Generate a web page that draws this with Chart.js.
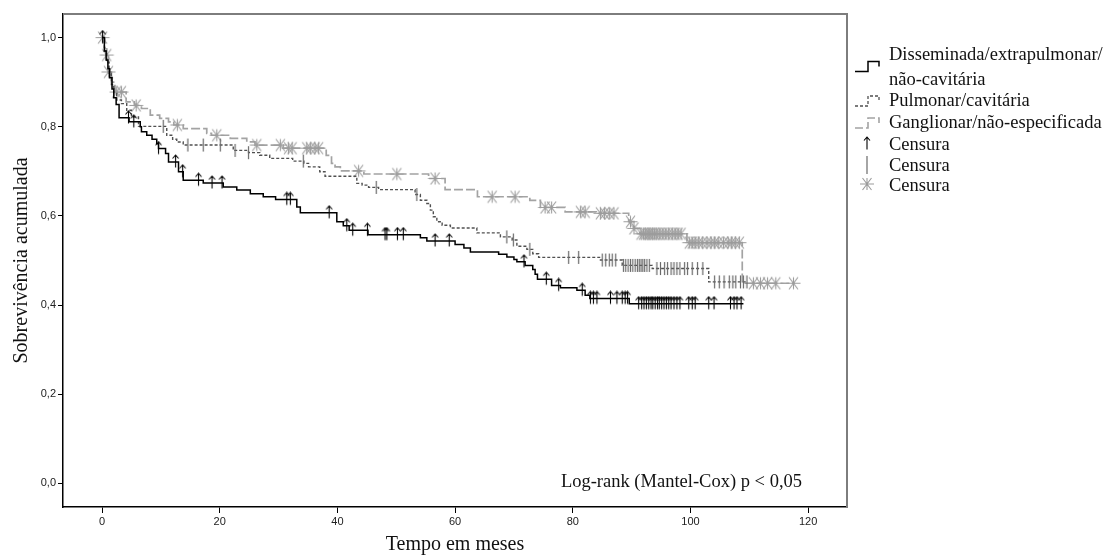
<!DOCTYPE html>
<html>
<head>
<meta charset="utf-8">
<script src="https://cdn.jsdelivr.net/npm/chart.js@4.4.1/dist/chart.umd.min.js"></script>
<style>
    html, body { margin: 0; padding: 0; background: #fff; }
    #km { display: block; }
</style>
</head>
<body>
<canvas id="km" width="1111" height="555"></canvas>
<script>
// Disseminada/extrapulmonar/não-cavitária
const dissemTime = [0, 0.4, 0.7, 1.0, 1.3, 1.7, 2.0, 2.4, 2.9, 4.6, 6.5, 6.7, 7.6, 8.5, 9.3, 9.6, 10.8, 11.3, 13.0, 13.8, 17.2, 20.6, 22.9, 25.2, 27.4, 29.5, 33.1, 33.7, 39.9, 41.0, 42.0, 45.2, 54.1, 55.2, 60.0, 61.5, 62.6, 67.4, 68.8, 70.0, 70.5, 71.9, 73.2, 73.6, 74.0, 76.4, 77.9, 80.7, 82.1, 82.9, 89.6, 109.0];
const dissemSurv = [1.0, 0.97, 0.95, 0.93, 0.91, 0.885, 0.865, 0.85, 0.82, 0.811, 0.80, 0.789, 0.781, 0.772, 0.762, 0.751, 0.74, 0.721, 0.699, 0.68, 0.674, 0.665, 0.658, 0.650, 0.643, 0.637, 0.620, 0.607, 0.587, 0.578, 0.568, 0.558, 0.551, 0.544, 0.536, 0.528, 0.519, 0.514, 0.508, 0.502, 0.497, 0.489, 0.480, 0.469, 0.458, 0.444, 0.439, 0.433, 0.422, 0.415, 0.403, 0.403];
const dissemCensor = [0.1, 4.5, 5.4, 9.6, 12.5, 13.7, 16.4, 18.7, 20.4, 31.4, 32.0, 38.6, 41.6, 42.6, 45.1, 48.1, 48.4, 50.2, 51.2, 56.6, 59.0, 71.7, 75.5, 77.6, 81.6, 83.0, 83.5, 84.1, 86.4, 87.5, 88.4, 88.9, 89.3, 91.2, 91.7, 92.1, 92.5, 92.9, 93.3, 93.6, 94.0, 94.4, 94.7, 95.1, 95.5, 95.9, 96.3, 96.7, 97.2, 97.7, 98.2, 99.7, 100.3, 100.8, 103.1, 104.0, 106.8, 107.4, 107.9, 108.6];

// Pulmonar/cavitária
const pulmTime = [0, 0.4, 0.8, 1.2, 1.6, 2.0, 2.5, 3.3, 4.2, 5.0, 6.2, 11.0, 12.0, 12.7, 13.8, 22.3, 24.9, 26.8, 28.5, 32.4, 34.3, 35.1, 37.0, 37.9, 43.3, 44.2, 45.3, 47.0, 53.2, 54.1, 55.2, 55.8, 56.3, 56.9, 57.8, 59.2, 63.7, 67.7, 69.7, 70.5, 72.2, 73.2, 74.2, 84.7, 88.4, 93.5, 103.1, 109.6];
const pulmSurv = [1.0, 0.97, 0.945, 0.92, 0.895, 0.875, 0.86, 0.852, 0.837, 0.822, 0.801, 0.781, 0.772, 0.766, 0.759, 0.747, 0.742, 0.736, 0.729, 0.723, 0.718, 0.710, 0.699, 0.689, 0.673, 0.669, 0.664, 0.659, 0.648, 0.635, 0.628, 0.613, 0.598, 0.587, 0.579, 0.573, 0.562, 0.553, 0.546, 0.532, 0.525, 0.515, 0.507, 0.501, 0.489, 0.482, 0.452, 0.452];
const pulmCensor = [10.4, 14.6, 17.2, 20.1, 22.6, 24.9, 34.2, 46.6, 53.5, 68.8, 69.9, 72.7, 79.3, 81.0, 85.0, 85.6, 86.2, 86.7, 87.3, 88.6, 89.0, 89.4, 89.8, 90.2, 90.6, 91.0, 91.3, 91.6, 91.9, 92.2, 92.6, 93.0, 94.3, 94.9, 95.6, 96.1, 96.7, 97.2, 97.7, 98.2, 99.0, 99.5, 100.3, 101.2, 102.1, 104.1, 104.9, 105.7, 106.6, 107.2, 107.7, 108.5, 109.0, 109.6];

// Ganglionar/não-especificada
const gangTime = [0, 0.5, 0.8, 1.1, 1.6, 2.2, 4.1, 5.5, 6.7, 8.2, 9.8, 11.3, 12.2, 13.8, 17.8, 18.6, 21.8, 24.6, 26.0, 30.8, 38.1, 39.0, 39.6, 40.5, 44.5, 55.5, 58.3, 63.8, 72.7, 74.5, 78.7, 84.0, 89.5, 90.4, 91.4, 99.4, 108.8, 117.5];
const gangSurv = [1.0, 0.975, 0.961, 0.923, 0.9, 0.878, 0.856, 0.848, 0.841, 0.826, 0.819, 0.811, 0.804, 0.796, 0.785, 0.781, 0.774, 0.766, 0.759, 0.752, 0.736, 0.718, 0.710, 0.701, 0.694, 0.684, 0.659, 0.643, 0.635, 0.619, 0.609, 0.606, 0.587, 0.572, 0.560, 0.540, 0.449, 0.449];
const gangCensor = [0.1, 0.8, 1.1, 2.5, 3.3, 5.8, 12.8, 19.5, 26.3, 30.3, 31.7, 32.3, 34.8, 35.4, 36.2, 36.8, 43.6, 50.1, 56.6, 66.3, 70.2, 75.3, 76.4, 81.3, 82.1, 84.7, 85.4, 86.2, 87.0, 89.8, 90.4, 91.6, 92.0, 92.4, 92.8, 93.1, 93.5, 93.9, 94.3, 94.8, 95.3, 95.8, 96.3, 96.9, 97.4, 97.9, 98.4, 99.8, 100.3, 100.8, 101.4, 102.0, 102.8, 103.5, 104.1, 104.7, 105.6, 106.4, 107.0, 107.6, 108.3, 110.7, 111.9, 113.1, 114.5, 117.5];

const xTicks = [0, 20, 40, 60, 80, 100, 120];
const yTicks = [0, 0.2, 0.4, 0.6, 0.8, 1.0];
const legendLabels = ["Disseminada/extrapulmonar/", "não-cavitária", "Pulmonar/cavitária", "Ganglionar/não-especificada", "Censura", "Censura", "Censura"];

const COLORS = {
    dissem: "#000000",
    pulm: "#505050",
    gang: "#a3a3a3",
    bar: "#6a6a6a",
    star: "#9c9c9c",
    frame: "#7d7d7d"
};
const SERIF = "'Liberation Serif', 'Times New Roman', serif";

const toPoints = (times, surv) => times.map((t, i) => ({ x: t, y: surv[i] }));

// survival level of a step curve at time t
const survAt = (times, surv, t) => {
    let s = surv[0];
    for (let i = 0; i < times.length; i++) {
        if (times[i] <= t) s = surv[i];
    }
    return s;
};

const censorPoints = (censor, times, surv) => censor.map(t => ({ x: t, y: survAt(times, surv, t) }));

const makeMarker = (w, h, draw) => {
    const c = document.createElement("canvas");
    c.width = w;
    c.height = h;
    draw(c.getContext("2d"));
    return c;
};

// arrow centred on (x, y), tip pointing up
const drawArrow = (g, x, y) => {
    g.beginPath();
    g.moveTo(x, y + 5.5);
    g.lineTo(x, y - 7);
    g.moveTo(x - 3, y - 3.5);
    g.lineTo(x, y - 7);
    g.lineTo(x + 3, y - 3.5);
    g.stroke();
};

const drawStar = (g, x, y) => {
    g.beginPath();
    g.moveTo(x - 7, y); g.lineTo(x + 7, y);
    g.moveTo(x - 4.5, y - 6); g.lineTo(x + 4.5, y + 6);
    g.moveTo(x + 4.5, y - 6); g.lineTo(x - 4.5, y + 6);
    g.moveTo(x, y - 6); g.lineTo(x, y + 6);
    g.stroke();
};

const arrowMark = makeMarker(9, 16, g => {
    g.strokeStyle = COLORS.dissem;
    g.lineWidth = 1.1;
    drawArrow(g, 4.5, 8);
});

const barMark = makeMarker(3, 15, g => {
    g.strokeStyle = COLORS.bar;
    g.lineWidth = 1.2;
    g.beginPath();
    g.moveTo(1.5, 1);
    g.lineTo(1.5, 14);
    g.stroke();
});

const starMark = makeMarker(17, 15, g => {
    g.strokeStyle = COLORS.star;
    g.lineWidth = 1.1;
    drawStar(g, 8.5, 7.5);
});

const framePlugin = {
    id: "frameAndText",
    afterDraw(chart) {
        const { ctx, chartArea } = chart;
        const { left, right, top, bottom } = chartArea;
        ctx.save();

        // top and right frame in grey
        ctx.strokeStyle = COLORS.frame;
        ctx.lineWidth = 2;
        ctx.beginPath();
        ctx.moveTo(left, top);
        ctx.lineTo(right, top);
        ctx.lineTo(right, bottom);
        ctx.stroke();

        ctx.fillStyle = "#111";
        ctx.textBaseline = "middle";

        // axis titles
        ctx.font = `20px ${SERIF}`;
        ctx.textAlign = "center";
        ctx.fillText("Tempo em meses", (left + right) / 2, 545);
        ctx.save();
        ctx.translate(22, (top + bottom) / 2);
        ctx.rotate(-Math.PI / 2);
        ctx.fillText("Sobrevivência acumulada", 0, 0);
        ctx.restore();

        ctx.font = `18.5px ${SERIF}`;
        ctx.textAlign = "right";
        ctx.fillText("Log-rank (Mantel-Cox) p < 0,05", 802, 482);

        // legend
        ctx.textAlign = "left";
        const tx = 889;
        const rows = [55, 80, 101.5, 123, 145, 166.5, 186.5];
        legendLabels.forEach((lbl, i) => ctx.fillText(lbl, tx, rows[i]));

        const stepGlyph = (y, color, dash, width) => {
            ctx.save();
            ctx.strokeStyle = color;
            ctx.lineWidth = width;
            ctx.setLineDash(dash);
            ctx.beginPath();
            ctx.moveTo(855, y + 5);
            ctx.lineTo(868, y + 5);
            ctx.lineTo(868, y - 5);
            ctx.lineTo(879, y - 5);
            ctx.lineTo(879, y);
            ctx.stroke();
            ctx.restore();
        };
        stepGlyph(66.5, COLORS.dissem, [], 1.5);
        stepGlyph(101, COLORS.pulm, [3, 2], 1.3);
        stepGlyph(123, COLORS.gang, [8, 3], 1.6);

        ctx.strokeStyle = COLORS.dissem;
        ctx.lineWidth = 1.1;
        drawArrow(ctx, 867, 144);

        ctx.strokeStyle = COLORS.bar;
        ctx.lineWidth = 1.2;
        ctx.beginPath();
        ctx.moveTo(867, 156);
        ctx.lineTo(867, 174);
        ctx.stroke();

        ctx.strokeStyle = COLORS.star;
        ctx.lineWidth = 1.1;
        drawStar(ctx, 867, 184);

        ctx.restore();
    }
};

const fmtY = v => v.toFixed(1).replace(".", ",");

new Chart(document.getElementById("km"), {
    type: "line",
    data: {
        datasets: [{
            label: "Disseminada/extrapulmonar/não-cavitária",
            data: toPoints(dissemTime, dissemSurv),
            stepped: "before",
            borderColor: COLORS.dissem,
            borderWidth: 1.5,
            pointRadius: 0,
            fill: false,
            order: 1
        }, {
            label: "Pulmonar/cavitária",
            data: toPoints(pulmTime, pulmSurv),
            stepped: "before",
            borderColor: COLORS.pulm,
            borderWidth: 1.4,
            borderDash: [3, 2],
            pointRadius: 0,
            fill: false,
            order: 3
        }, {
            label: "Ganglionar/não-especificada",
            data: toPoints(gangTime, gangSurv),
            stepped: "before",
            borderColor: COLORS.gang,
            borderWidth: 1.7,
            borderDash: [9, 3],
            pointRadius: 0,
            fill: false,
            order: 5
        }, {
            type: "scatter",
            label: "Censura",
            data: censorPoints(dissemCensor, dissemTime, dissemSurv),
            pointStyle: arrowMark,
            pointRadius: 6,
            order: 0
        }, {
            type: "scatter",
            label: "Censura",
            data: censorPoints(pulmCensor, pulmTime, pulmSurv),
            pointStyle: barMark,
            pointRadius: 6,
            order: 2
        }, {
            type: "scatter",
            label: "Censura",
            data: censorPoints(gangCensor, gangTime, gangSurv),
            pointStyle: starMark,
            pointRadius: 6,
            order: 4
        }]
    },
    options: {
        responsive: false,
        animation: false,
        layout: {
            padding: { left: 0, top: 14, right: 264, bottom: 0 }
        },
        plugins: {
            legend: { display: false },
            tooltip: { enabled: false }
        },
        scales: {
            x: {
                type: "linear",
                min: -6.63,
                max: 126.6,
                afterBuildTicks: scale => {
                    scale.ticks = xTicks.map(v => ({ value: v }));
                },
                afterFit: scale => {
                    scale.height = 48;
                },
                grid: { drawOnChartArea: false, tickLength: 6, color: "#000", lineWidth: 1 },
                border: { color: "#000", width: 1.5 },
                ticks: {
                    color: "#222",
                    padding: 2,
                    maxRotation: 0,
                    font: { family: "'Liberation Sans', Arial, sans-serif", size: 11 },
                    callback: v => String(v)
                }
            },
            y: {
                type: "linear",
                min: -0.053,
                max: 1.053,
                afterBuildTicks: scale => {
                    scale.ticks = yTicks.map(v => ({ value: v }));
                },
                afterFit: scale => {
                    scale.width = 63;
                },
                grid: { drawOnChartArea: false, tickLength: 5, color: "#000", lineWidth: 1 },
                border: { color: "#000", width: 1.5 },
                ticks: {
                    color: "#222",
                    padding: 2,
                    font: { family: "'Liberation Sans', Arial, sans-serif", size: 11 },
                    callback: v => fmtY(v)
                }
            }
        }
    },
    plugins: [framePlugin]
});
</script>
</body>
</html>
